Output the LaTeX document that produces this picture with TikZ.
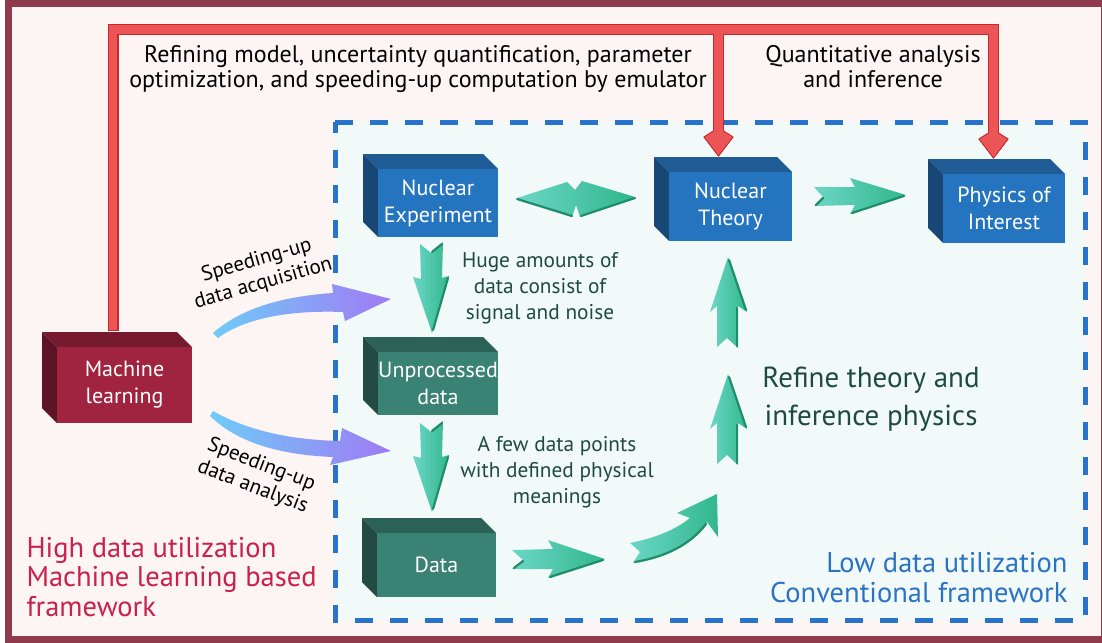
\documentclass[tikz,border=0pt]{standalone}
\usepackage{fontspec}
\setmainfont{PT Sans}
\definecolor{maroon}{HTML}{8F3A4D}
\definecolor{pinkbg}{HTML}{FDF4F4}
\definecolor{cyanbg}{HTML}{F2FAF9}
\definecolor{dashblue}{HTML}{2874CC}
\definecolor{redL}{HTML}{EC5456}
\definecolor{redD}{HTML}{C22A30}
\definecolor{bF}{HTML}{2574C0}
\definecolor{bT}{HTML}{1F5B94}
\definecolor{bS}{HTML}{184776}
\definecolor{mF}{HTML}{A0233F}
\definecolor{mT}{HTML}{761A2F}
\definecolor{mS}{HTML}{5E1427}
\definecolor{gF}{HTML}{3A8274}
\definecolor{gT}{HTML}{2C6157}
\definecolor{gS}{HTML}{234B44}
\definecolor{tealtxt}{HTML}{1E4B40}
\definecolor{crim}{HTML}{C8214B}
\definecolor{bluetxt}{HTML}{2A72C2}
\definecolor{arL}{HTML}{6CD6C6}
\definecolor{arR}{HTML}{30B78C}
\definecolor{arD}{HTML}{1F8C6A}
\definecolor{puL}{HTML}{6FCBF8}
\definecolor{puR}{HTML}{A07AF4}
\newcommand\cbox[9]{%
  \fill[#8] (#2,#3) -- (#2-15,#3-15) -- (#4-15,#3-15) -- (#4,#3) -- cycle;
  \fill[#9] (#2,#3) -- (#2-15,#3-15) -- (#2-15,#5-15) -- (#2,#5) -- cycle;
  \node[boxface, fill=#7, minimum width={#4-#2}, minimum height={#5-#3}] (#1) at ({(#2+#4)/2},{(#3+#5)/2}) {#6};
}
\begin{document}
\begin{tikzpicture}[x=1pt,y=-1pt,
  boxface/.style={inner sep=0pt, text=white, align=center, font=\fontsize{22}{27}\selectfont},
  greenarrow/.style={left color=arL, right color=arR},
  bevel/.style={draw=arD, line width=2.2pt, line cap=round},
  purplearrow/.style={left color=puL, right color=puR},
  redline/.style={line width=11pt, draw=redD, line join=miter},
  redinner/.style={line width=8.5pt, draw=redL, line join=miter},
  redhead/.style={fill=redL, draw=redD, line width=0.8pt, line join=round},
  note/.style={align=center, text=tealtxt, font=\fontsize{21.3}{26}\selectfont},
  toptxt/.style={align=center, text=black, font=\fontsize{24}{25}\selectfont},
  side/.style={rotate=#1, align=center, text=black, font=\fontsize{21}{24}\selectfont}
]
\useasboundingbox (0,0) rectangle (1102,642);
\clip (0,0) rectangle (1102,642);
\fill[white] (0,0) rectangle (1102,642);
\draw[line width=7pt, draw=maroon, fill=pinkbg] (8,4) rectangle (1104.5,639);
% conventional framework box
\fill[cyanbg] (335,122) rectangle (1085,620);
\draw[dashblue, line width=5pt, dash pattern=on 18pt off 17pt] (335,122) -- (1085,122) -- (1085,620) -- (335,620) -- cycle;

% boxes
\cbox{ne}{378}{169}{498}{237}{Nuclear\\Experiment}{bF}{bT}{bS}
\cbox{nt}{669}{172}{792}{241}{Nuclear\\Theory}{bF}{bT}{bS}
\cbox{pi}{943}{174}{1065}{243}{Physics of\\Interest}{bF}{bT}{bS}
\cbox{ml}{57}{347}{192}{423}{Machine\\learning}{mF}{mT}{mS}
\cbox{ud}{378}{352}{498}{415}{Unprocessed\\data}{gF}{gT}{gS}
\cbox{da}{377}{533}{496}{597}{Data}{gF}{gT}{gS}

% red feedback connectors
\coordinate (mltop) at (113,331);
\coordinate (corner1) at (113,29.5);
\coordinate (corner2) at (993.5,29.5);
\coordinate (jt) at (718.5,29.5);
\coordinate (ntin) at (718.5,136);
\coordinate (piin) at (993.5,138);
\draw[redline] (mltop) -- (corner1) -- (corner2) -- (piin);
\draw[redline] (jt) -- (ntin);
\fill[redhead] (713.5,131) -- (704,137) -- (718.5,156) -- (733,137) -- (723.5,131) -- cycle;
\fill[redhead] (988.5,133) -- (979,139) -- (993.5,158) -- (1008,139) -- (998.5,133) -- cycle;
\draw[redhead] (713.5,131) -- (704,137) -- (718.5,156) -- (733,137) -- (723.5,131);
\draw[redhead] (988.5,133) -- (979,139) -- (993.5,158) -- (1008,139) -- (998.5,133);
\draw[redinner] (mltop) ++(0,-1.2) -- (corner1) -- (corner2) -- ++(0,110);
\draw[redinner] (jt) -- ++(0,104);

% green arrows
\shade[greenarrow] (517,198) -- (567,182) -- (575,190) -- (582,181) -- (635,197) -- (580,217) -- (576,205) -- (572,217) -- cycle;
\draw[bevel] (517,199) -- (572,216); \draw[bevel] (635,198) -- (581,216);
\shade[greenarrow] (420,244) -- (431,253) -- (443,242) -- (442,278) -- (449,276) -- (432,333) -- (413,277) -- (421,279) -- cycle;
\draw[bevel] (432,252) -- (442,244); \draw[bevel] (448,278) -- (433,330);
\shade[greenarrow] (420,423) -- (431,432) -- (443,421) -- (442,457) -- (449,455) -- (432,512) -- (413,456) -- (421,458) -- cycle;
\draw[bevel] (432,431) -- (442,423); \draw[bevel] (448,457) -- (433,509);
\shade[greenarrow] (512,550) -- (553,549) -- (548,540) -- (605,559) -- (548,578) -- (553,569) -- (512,569) -- (523,560) -- cycle;
\draw[bevel] (603,560) -- (550,577); \draw[bevel] (514,568) -- (523,561);
\shade[greenarrow] (814,187) -- (855,187) -- (850,178) -- (906,195) -- (850,214) -- (855,205) -- (814,206) -- (823,197) -- cycle;
\draw[bevel] (904,196) -- (852,213); \draw[bevel] (816,205) -- (823,198);
\shade[greenarrow] (728,257) -- (747,312) -- (738,306) -- (738,348) -- (727,338) -- (717,347) -- (717,306) -- (710,312) -- cycle;
\draw[bevel] (729,260) -- (746,310); \draw[bevel] (737,308) -- (737,346);
\shade[greenarrow] (728,374) -- (747,429) -- (738,423) -- (738,465) -- (727,455) -- (717,464) -- (717,423) -- (710,429) -- cycle;
\draw[bevel] (729,377) -- (746,427); \draw[bevel] (737,425) -- (737,463);
\shade[greenarrow] (630,543) .. controls (655,538) and (675,530) .. (690,518) -- (677,513) -- (717,494) -- (718,537) -- (707,522) .. controls (690,545) and (665,558) .. (633,563) -- (640,552) -- cycle;
\draw[bevel] (706,524) .. controls (690,545) and (665,557) .. (635,562);

% purple arrows
\shade[purplearrow] (213,333) .. controls (245,305) and (290,296) .. (333,293) -- (332,284) -- (391,299) -- (345,321) -- (343,312) .. controls (290,310) and (245,318) .. (218,338) -- cycle;
\shade[purplearrow] (213,411) .. controls (250,432) and (295,440) .. (340,441) -- (342,428) -- (391,451) -- (330,465) -- (333,457) .. controls (285,455) and (240,445) .. (210,416) -- cycle;

% texts
\node[toptxt] (t1) at (418,69) {Refining model, uncertainty quantification, parameter\\optimization, and speeding-up computation by emulator};
\node[toptxt] (t2) at (873,67) {Quantitative analysis\\and inference};
\node[side=16] (s1) at (260,272) {Speeding-up\\data acquisition};
\node[side=-21] (s2) at (257,476) {Speeding-up\\data analysis};
\node[note] (n1) at (540,288) {Huge amounts of\\data consist of\\signal and noise};
\node[note] (n2) at (557,472) {A few data points\\with defined physical\\meanings};
\node[align=center, text=tealtxt, font=\fontsize{29}{38}\selectfont] (n3) at (871,399) {Refine theory and\\inference physics};
\node[align=right, text=bluetxt, font=\fontsize{28.5}{30}\selectfont, anchor=east] (lo) at (1071,578) {Low data utilization\\Conventional framework};
\node[align=left, text=crim, font=\fontsize{28.5}{29.5}\selectfont, anchor=west] (hi) at (23,577) {High data utilization\\Machine learning based\\framework};
\end{tikzpicture}
\end{document}
